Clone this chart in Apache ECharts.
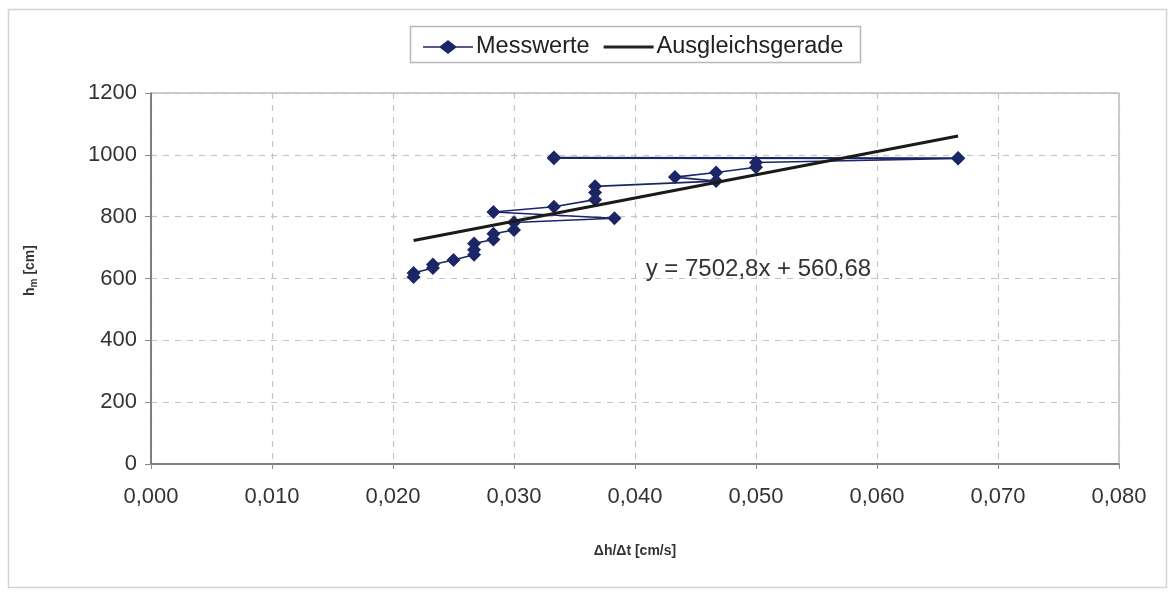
<!DOCTYPE html>
<html>
<head>
<meta charset="utf-8">
<script src="https://cdn.jsdelivr.net/npm/echarts@6/dist/echarts.min.js"></script>
<style>
html,body{margin:0;padding:0;background:#fff;}
#chart{width:1174px;height:592px;}
</style>
</head>
<body>
<div id="chart"></div>
<script>
// Messwerte (Δh/Δt [cm/s], h_m [cm]) in measurement order
const messX = [0.0333, 0.0667, 0.0333, 0.0667, 0.0500, 0.0500, 0.0467, 0.0433, 0.0467, 0.0367, 0.0367, 0.0367, 0.0333, 0.0283, 0.0383, 0.0300, 0.0300, 0.0283, 0.0283, 0.0267, 0.0267, 0.0267, 0.0250, 0.0233, 0.0233, 0.0217, 0.0217];
const messY = [991, 990, 989, 988, 975, 960, 943, 928, 915, 898, 878, 855, 832, 815, 795, 781, 757, 745, 726, 713, 693, 677, 660, 645, 634, 618, 605];
// Ausgleichsgerade endpoints
const fitX = [0.0217, 0.0667];
const fitY = [723, 1061];
const xTicks = [0, 0.08, 0.01];
const yTicks = [0, 1200, 200];
const equation = 'y = 7502,8x + 560,68';

const chart = echarts.init(document.getElementById('chart'));
const font = 'Liberation Sans, Arial, sans-serif';
const mess = messX.map((x, i) => [x, messY[i]]);
const fit = fitX.map((x, i) => [x, fitY[i]]);

chart.setOption({
  backgroundColor: '#ffffff',
  animation: false,
  graphic: [
    { type: 'rect', shape: { x: 8.5, y: 9.5, width: 1158, height: 578 }, style: { fill: 'none', stroke: '#d4d4d4', lineWidth: 1.5 }, z: -1 },
    { type: 'rect', shape: { x: 410.5, y: 26.5, width: 450, height: 36 }, style: { fill: '#fff', stroke: '#b8b8b8', lineWidth: 1.5 }, z: 0 }
  ],
  legend: {
    top: 30, left: 418,
    itemGap: 14,
    itemWidth: 50, itemHeight: 14,
    textStyle: { fontFamily: font, fontSize: 23.5, color: '#222', padding: [0, 0, 0, -2] },
    data: [
      { name: 'Messwerte', icon: 'path://M0,6.2L17,6.2L25,0L33,6.2L50,6.2L50,7.8L33,7.8L25,14L17,7.8L0,7.8Z', itemStyle: { color: '#1c2566' } },
      { name: 'Ausgleichsgerade', icon: 'path://M0,5.5L50,5.5L50,8.5L0,8.5Z', itemStyle: { color: '#222' } }
    ],
    z: 5
  },
  grid: { left: 151, top: 93, width: 968, height: 371, show: true, borderColor: '#9a9a9a', borderWidth: 1 },
  xAxis: {
    type: 'value', min: xTicks[0], max: xTicks[1], interval: xTicks[2],
    name: 'Δh/Δt [cm/s]', nameLocation: 'middle', nameGap: 80,
    nameTextStyle: { fontFamily: font, fontSize: 14, fontWeight: 'bold', color: '#333' },
    axisLine: { lineStyle: { color: '#666', width: 1.5 } },
    axisTick: { show: true, length: 5, lineStyle: { color: '#888' } },
    axisLabel: { fontFamily: font, fontSize: 22, color: '#333', margin: 22,
      formatter: v => v.toFixed(3).replace('.', ',') },
    splitLine: { show: true, lineStyle: { color: '#c4c4c4', type: [6, 6], width: 1.2 } }
  },
  yAxis: {
    type: 'value', min: yTicks[0], max: yTicks[1], interval: yTicks[2],
    name: '{b|h}{s|m}{b| [cm]}', nameLocation: 'middle', nameGap: 112, nameRotate: 90,
    nameTextStyle: { padding: [0, 0, 0, 16], rich: {
      b: { fontFamily: font, fontSize: 14, fontWeight: 'bold', color: '#333' },
      s: { fontFamily: font, fontSize: 10, fontWeight: 'bold', color: '#333', padding: [8, 0, 0, 0] }
    } },
    axisLine: { show: true, lineStyle: { color: '#666', width: 1.5 } },
    axisTick: { show: true, length: 6, lineStyle: { color: '#888' } },
    axisLabel: { fontFamily: font, fontSize: 22, color: '#333', margin: 14,
      formatter: v => String(v) },
    splitLine: { show: true, lineStyle: { color: '#c4c4c4', type: [6, 6], width: 1.2 } }
  },
  series: [
    {
      name: 'Messwerte', type: 'line', data: mess,
      symbol: 'diamond', symbolSize: 14,
      lineStyle: { color: '#1c2566', width: 1.6 },
      itemStyle: { color: '#1c2566' },
      z: 3
    },
    {
      name: 'Ausgleichsgerade', type: 'line', data: fit,
      symbol: 'none',
      lineStyle: { color: '#1a1a1a', width: 3 },
      itemStyle: { color: '#222' },
      z: 4,
      markPoint: {
        symbol: 'rect', symbolSize: 1, silent: true,
        data: [{ coord: [0.0502, 630], value: equation,
          label: { show: true, formatter: equation, fontFamily: font, fontSize: 24, color: '#333', position: 'inside' },
          itemStyle: { color: 'transparent' } }]
      }
    }
  ]
});
</script>
</body>
</html>
